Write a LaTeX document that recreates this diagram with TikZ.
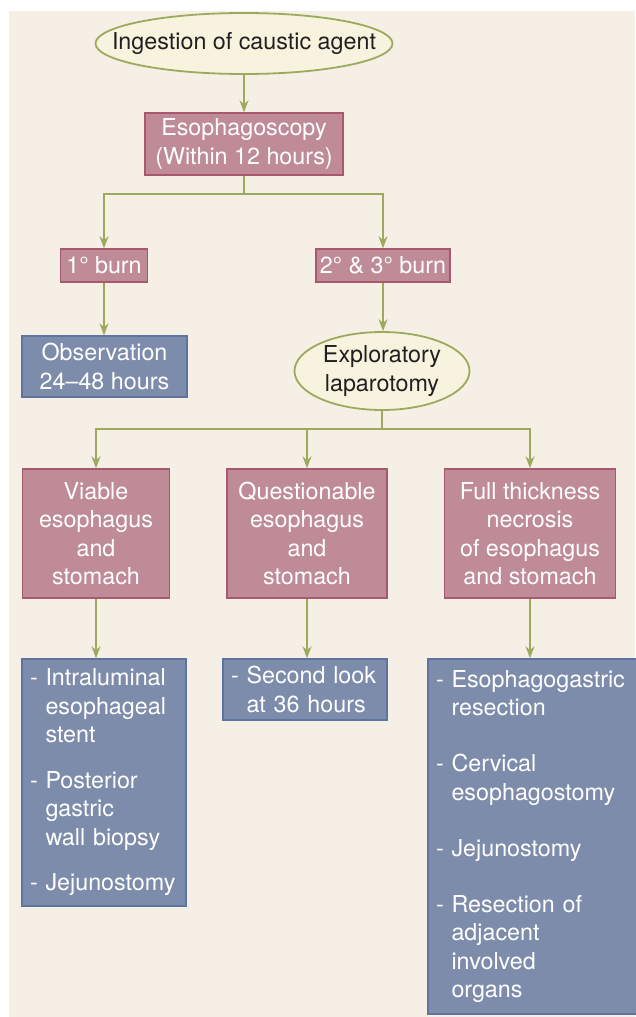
\documentclass[tikz,border=0pt]{standalone}
\usepackage{fontspec}
\setmainfont{TeX Gyre Heros}
\usetikzlibrary{arrows.meta,shapes.geometric}
\definecolor{bgc}{HTML}{F6EFE5}
\definecolor{ellfill}{HTML}{F7F3DE}
\definecolor{grn}{HTML}{9DAA5E}
\definecolor{pinkfill}{HTML}{BF8B97}
\definecolor{pinkline}{HTML}{A8596F}
\definecolor{bluefill}{HTML}{7E8CAC}
\definecolor{blueline}{HTML}{5E74A0}
\definecolor{txt}{HTML}{231F20}
\newcommand{\ind}{\hphantom{- }}
\begin{document}
\begin{tikzpicture}[x=1pt,y=-1pt,
  every node/.style={font=\fontsize{23.3}{28.5}\selectfont, inner sep=0pt},
  ell/.style={ellipse, draw=grn, line width=1.8pt, fill=ellfill, text=txt, align=center},
  elltext/.style={text=txt, align=center},
  pinkbox/.style={rectangle, draw=pinkline, line width=1.5pt, fill=pinkfill, text=white, align=center},
  bluebox/.style={rectangle, draw=blueline, line width=1.5pt, fill=bluefill, text=white, align=center},
  listbox/.style={bluebox, align=left, inner xsep=8pt},
  arr/.style={draw=grn, line width=1.5pt, -{Stealth[length=12pt,width=9pt,inset=4pt]}},
  ln/.style={draw=grn, line width=1.5pt}]
\useasboundingbox (0,0) rectangle (635,1017);
\fill[bgc] (9,11) rectangle (635,1017);

\node[ell, minimum width=297, minimum height=61,
  label={[elltext]center:Ingestion of caustic agent}] (ing) at (244,43.5) {};
\node[pinkbox, minimum width=198, minimum height=62] (eso) at (244,144) {Esophagoscopy\\(Within 12 hours)};
\node[pinkbox, minimum width=87, minimum height=33] (b1) at (104,265.5) {1° burn};
\node[pinkbox, minimum width=134, minimum height=33] (b23) at (383,265.5) {2° \& 3° burn};
\node[bluebox, minimum width=165, minimum height=61] (obs) at (104.5,366.5) {Observation\\24–48 hours};
\node[ell, minimum width=175, minimum height=78,
  label={[elltext]center:Exploratory\\laparotomy}] (lap) at (382,371) {};

\node[pinkbox, minimum width=147, minimum height=129] (via) at (96,533.5) {Viable\\esophagus\\and\\stomach};
\node[pinkbox, minimum width=160, minimum height=129] (que) at (307,533.5) {Questionable\\esophagus\\and\\stomach};
\node[pinkbox, minimum width=171, minimum height=129] (ful) at (530,533.5) {Full thickness\\necrosis\\of esophagus\\and stomach};

\node[listbox, text width=148, minimum height=247] (lb) at (104,782.5)
  {- Intraluminal\\\ind esophageal\\\ind stent\\[17pt]- Posterior\\\ind gastric\\\ind wall biopsy\\[17pt]- Jejunostomy};
\node[listbox, text width=148, minimum height=61] (mb) at (305,689.5)
  {- Second look\\\ind at 36 hours};
\node[listbox, text width=198, minimum height=355] (rb) at (535,836.5)
  {- Esophagogastric\\\ind resection\\[27.5pt]- Cervical\\\ind esophagostomy\\[27.5pt]- Jejunostomy\\[27.5pt]- Resection of\\\ind adjacent\\\ind involved\\\ind organs};

\draw[arr] (ing.south) -- (eso.north);
\coordinate (j1) at (244,194);
\draw[ln] (eso.south) -- (j1);
\draw[arr] (j1) -| (b1.north);
\draw[arr] (j1) -| (b23.north);
\draw[arr] (b1.south) -- (b1.south |- obs.north);
\draw[arr] (b23.south) -- (b23.south |- lap.north);
\coordinate (j2) at (382,429);
\draw[ln] (lap.south) -- (j2);
\draw[arr] (j2) -| (via.north);
\draw[arr] (j2) -| (que.north);
\draw[arr] (j2) -| (ful.north);
\draw[arr] (via.south) -- (via.south |- lb.north);
\draw[arr] (que.south) -- (que.south |- mb.north);
\draw[arr] (ful.south) -- (ful.south |- rb.north);
\end{tikzpicture}
\end{document}
